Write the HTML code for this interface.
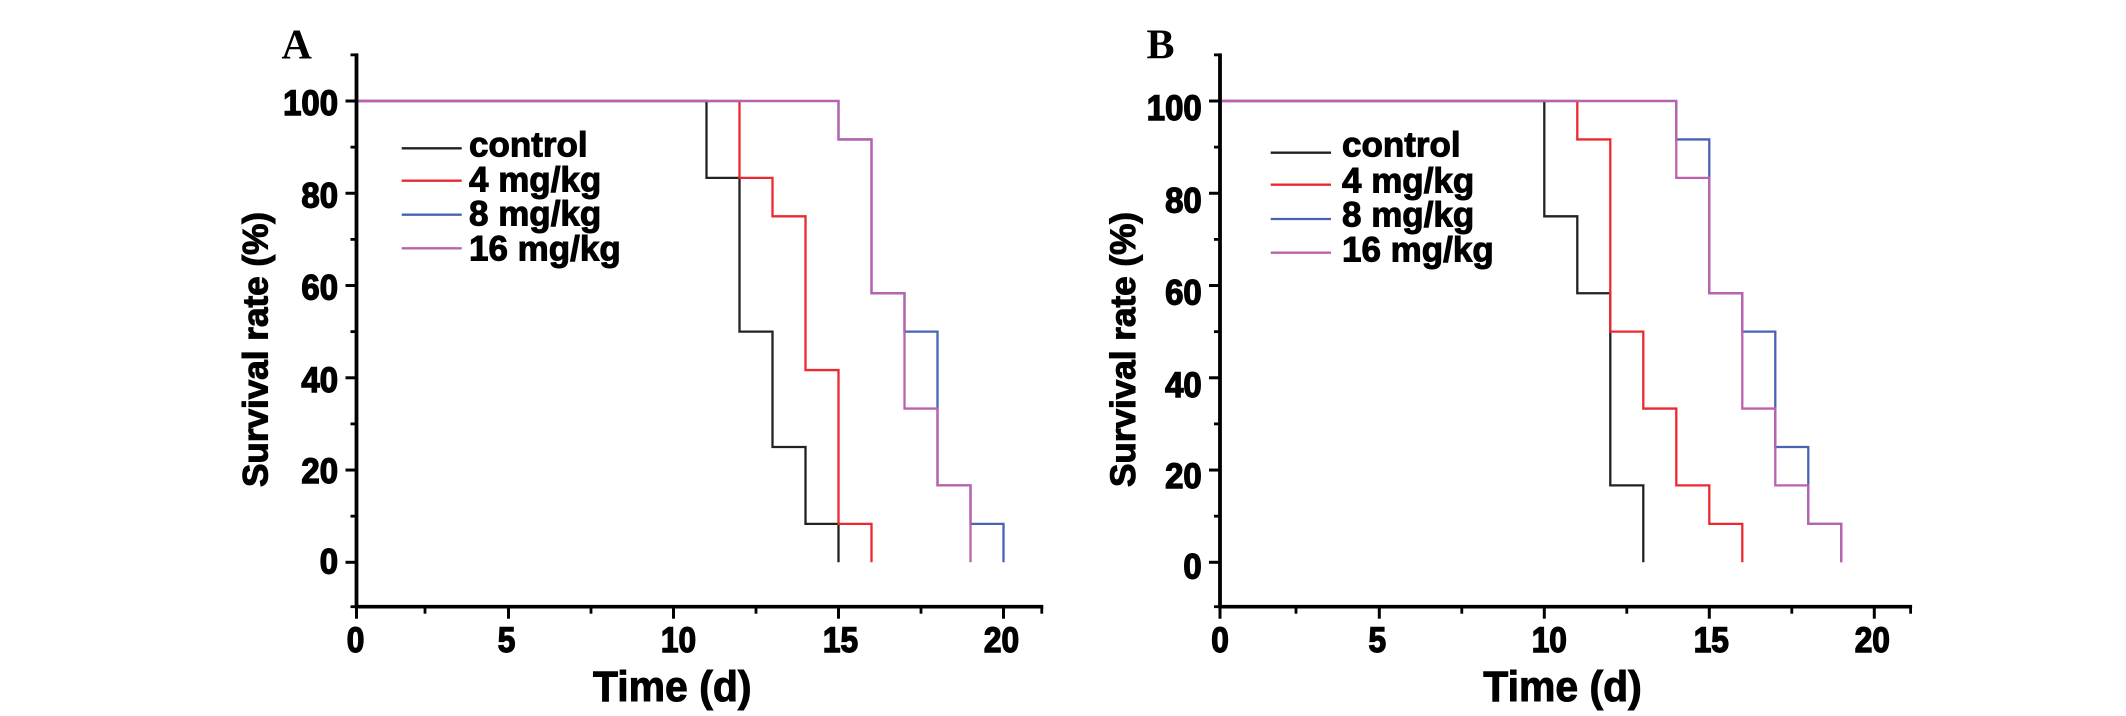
<!DOCTYPE html>
<html lang="en">
<head>
<meta charset="utf-8">
<title>Survival rate over time, panels A and B</title>
<style>
html,body{margin:0;padding:0;background:#fff;width:2126px;height:716px;overflow:hidden}
svg{display:block}
text{fill:#000}
.sans{font-family:"Liberation Sans",Arial,sans-serif;font-weight:700;stroke:#000}
.serif{font-family:"Liberation Serif","Times New Roman",serif;font-weight:700}
</style>
</head>
<body>
<svg id="figure" xmlns="http://www.w3.org/2000/svg" width="2126" height="716" viewBox="0 0 2126 716"></svg>
<script>
// ---- chart data ----
const seriesNames = ['control', '4 mg/kg', '8 mg/kg', '16 mg/kg'];
const seriesKeys = ['control', '4-mg-kg', '8-mg-kg', '16-mg-kg'];
const seriesColors = ['#222222', '#ea2a30', '#4a62b2', '#b962ae'];

const xMajorTicks = [0, 5, 10, 15, 20];
const xMinorTicks = [2.5, 7.5, 12.5, 17.5];
const yMajorTicks = [0, 20, 40, 60, 80, 100];
const yMinorTicks = [10, 30, 50, 70, 90, 110];

// Panel A: day on which each survival level begins
const panelADaysControl = [0, 11, 12, 13, 14, 15];
const panelASurvivalControl = [100, 83.33, 50, 25, 8.33, 0];
const panelADays4 = [0, 12, 13, 14, 15, 16];
const panelASurvival4 = [100, 83.33, 75, 41.67, 8.33, 0];
const panelADays8 = [0, 15, 16, 17, 18, 19, 20];
const panelASurvival8 = [100, 91.67, 58.33, 50, 16.67, 8.33, 0];
const panelADays16 = [0, 15, 16, 17, 18, 19];
const panelASurvival16 = [100, 91.67, 58.33, 33.33, 16.67, 0];

// Panel B: day on which each survival level begins
const panelBDaysControl = [0, 10, 11, 12, 13];
const panelBSurvivalControl = [100, 75, 58.33, 16.67, 0];
const panelBDays4 = [0, 11, 12, 13, 14, 15, 16];
const panelBSurvival4 = [100, 91.67, 50, 33.33, 16.67, 8.33, 0];
const panelBDays8 = [0, 14, 15, 16, 17, 18, 19];
const panelBSurvival8 = [100, 91.67, 58.33, 50, 25, 8.33, 0];
const panelBDays16 = [0, 14, 15, 16, 17, 18, 19];
const panelBSurvival16 = [100, 83.33, 58.33, 33.33, 16.67, 8.33, 0];

// ---- rendering ----
const svg = document.getElementById('figure');
const NS = 'http://www.w3.org/2000/svg';

function make(tag, attrs, parent) {
  const el = document.createElementNS(NS, tag);
  for (const k in attrs) el.setAttribute(k, attrs[k]);
  parent.appendChild(el);
  return el;
}

function yScale(v) { return 562.3 - 4.613 * v; }

function drawPanel(p) {
  const g = make('g', {}, svg);
  
  

  // The printed x axis is compressed below day 5.
  function xScale(v) {
    if (v >= 5) return p.x5 + 33 * (v - 5);
    if (v >= 2.5) return p.x25 + (p.x5 - p.x25) * (v - 2.5) / 2.5;
    return p.x0 + (p.x25 - p.x0) * v / 2.5;
  }
  const yBottom = 606.7;
  const yTop = yScale(110);
  const xEnd = xScale(p.xMax);

  const letter = make('text', {x: p.letterX, y: 58.3, 'font-size': 42, class: 'serif'}, g);
  letter.textContent = p.id;
  
  

  // series, black first so the later ones overlap
  p.series.forEach((s, i) => {
    let d = 'M' + xScale(s.days[0]) + ' ' + yScale(s.values[0]);
    for (let k = 1; k < s.days.length; k++) {
      d += ' L' + xScale(s.days[k]) + ' ' + yScale(s.values[k - 1]);
      d += ' L' + xScale(s.days[k]) + ' ' + yScale(s.values[k]);
    }
    const line = make('path', {d: d, fill: 'none', stroke: seriesColors[i], 'stroke-width': 2.3, 'stroke-linejoin': 'miter'}, g);
    
    
  });

  // y axis
  const yAxis = make('line', {x1: p.x0, x2: p.x0, y1: yTop - 1.5, y2: yBottom + 1.5, stroke: '#000', 'stroke-width': 3.8}, g);
  
  

  const yNudges = [-3, -1, 0, 0, 0, 0];
  yMajorTicks.forEach((v, i) => {
    const tick = make('line', {x1: p.x0 - 11, x2: p.x0, y1: yScale(v), y2: yScale(v), stroke: '#000', 'stroke-width': 3}, g);
    
    
    const str = String(v);
    const label = make('text', {x: p.yLabelRight, y: yScale(v) + p.yLabelDy + yNudges[i], 'text-anchor': 'end', 'font-size': 35, class: 'sans', 'stroke-width': 1.4, textLength: str.length * 18.3, lengthAdjust: 'spacingAndGlyphs'}, g);
    label.textContent = str;
    
    
  });
  yMinorTicks.forEach(v => {
    const tick = make('line', {x1: p.x0 - 6, x2: p.x0, y1: yScale(v), y2: yScale(v), stroke: '#000', 'stroke-width': 2.8}, g);
    
    
  });
  const cornerTick = make('line', {x1: p.x0 - 6, x2: p.x0, y1: yBottom, y2: yBottom, stroke: '#000', 'stroke-width': 2.8}, g);
  
  

  // x axis
  const xAxis = make('line', {x1: p.x0, x2: xEnd + 1.5, y1: yBottom, y2: yBottom, stroke: '#000', 'stroke-width': 3.6}, g);
  
  

  const xNudges = [p.zeroDx, -2, 5, 2, -2];
  xMajorTicks.forEach((v, i) => {
    const tick = make('line', {x1: xScale(v), x2: xScale(v), y1: yBottom, y2: yBottom + 12, stroke: '#000', 'stroke-width': 3}, g);
    
    
    const str = String(v);
    const label = make('text', {x: xScale(v) + xNudges[i], y: 652, 'text-anchor': 'middle', 'font-size': 35, class: 'sans', 'stroke-width': 1.4, textLength: str.length * 17.6, lengthAdjust: 'spacingAndGlyphs'}, g);
    label.textContent = str;
    
    
  });
  xMinorTicks.concat([p.xMax]).forEach(v => {
    const tick = make('line', {x1: xScale(v), x2: xScale(v), y1: yBottom, y2: yBottom + 7, stroke: '#000', 'stroke-width': 2.8}, g);
    
    
  });

  // axis titles
  const xTitle = make('text', {x: p.xTitleX, y: 701, 'font-size': 43, class: 'sans', 'stroke-width': 1, textLength: 158.5, lengthAdjust: 'spacingAndGlyphs'}, g);
  xTitle.textContent = 'Time (d)';
  
  

  const yTitle = make('text', {transform: 'translate(' + p.yTitleX + ' 487) rotate(-90)', x: 0, y: 0, 'font-size': 35, class: 'sans', 'stroke-width': 1.1, textLength: 275, lengthAdjust: 'spacingAndGlyphs'}, g);
  yTitle.textContent = 'Survival rate (%)';
  
  

  // legend
  const legend = make('g', {}, g);
  
  
  seriesNames.forEach((name, i) => {
    const entry = make('g', {}, legend);
    
    
    const swatch = make('line', {x1: p.legendLineX[0], x2: p.legendLineX[1], y1: p.legendLineY[i], y2: p.legendLineY[i], stroke: seriesColors[i], 'stroke-width': 2.3}, entry);
    
    
    const text = make('text', {x: p.legendTextX, y: p.legendTextY[i], 'font-size': 35, class: 'sans', 'stroke-width': 1}, entry);
    text.textContent = name;
    
    
  });
}

drawPanel({
  id: 'A', x0: 356.5, x25: 425, x5: 508.5, xMax: 21.16, zeroDx: -1,
  letterX: 281.5, yLabelRight: 338, yLabelDy: 14, xTitleX: 593, yTitleX: 267.5,
  legendLineX: [401.7, 461.7], legendLineY: [148.3, 180.7, 214.7, 248.3],
  legendTextX: 469, legendTextY: [156.7, 191.7, 225.5, 260.7],
  series: [
    {days: panelADaysControl, values: panelASurvivalControl},
    {days: panelADays4, values: panelASurvival4},
    {days: panelADays8, values: panelASurvival8},
    {days: panelADays16, values: panelASurvival16}
  ]
});

drawPanel({
  id: 'B', x0: 1220, x25: 1296, x5: 1379.3, xMax: 21.1, zeroDx: 0,
  letterX: 1146.5, yLabelRight: 1201.7, yLabelDy: 19, xTitleX: 1483.3, yTitleX: 1135,
  legendLineX: [1270.7, 1331], legendLineY: [152.7, 184.7, 219, 252.7],
  legendTextX: 1342, legendTextY: [156.7, 192.7, 226.7, 261.7],
  series: [
    {days: panelBDaysControl, values: panelBSurvivalControl},
    {days: panelBDays4, values: panelBSurvival4},
    {days: panelBDays8, values: panelBSurvival8},
    {days: panelBDays16, values: panelBSurvival16}
  ]
});
</script>
</body>
</html>
